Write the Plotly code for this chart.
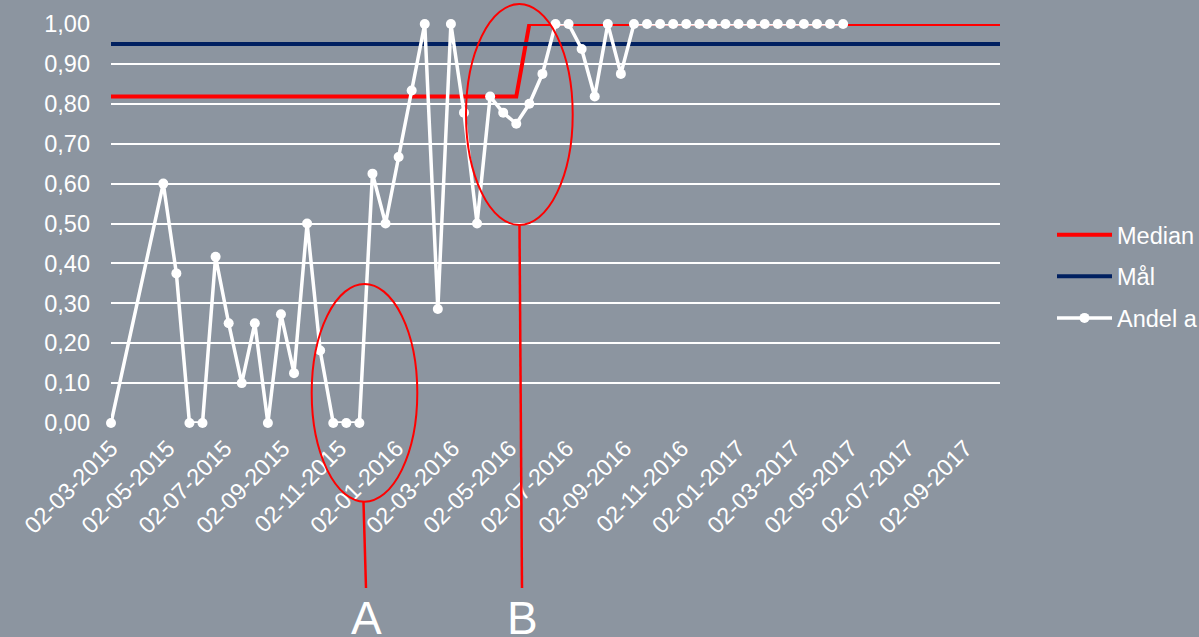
import plotly.graph_objects as go
import pandas as pd

# ---- data ----
first_date = "2015-03-02"
series_start = "2015-04-27"
andel_values = [0.0,
    0.60, 0.375, 0.0, 0.0, 0.4167, 0.25, 0.10, 0.25, 0.0, 0.2727,
    0.125, 0.50, 0.1818, 0.0, 0.0, 0.0, 0.625, 0.50, 0.6667, 0.8333,
    1.0, 0.2857, 1.0, 0.7778, 0.50, 0.8182, 0.7778, 0.75, 0.80, 0.875,
    1.0, 1.0, 0.9375, 0.8182, 1.0, 0.875, 1.0, 1.0, 1.0, 1.0,
    1.0, 1.0, 1.0, 1.0, 1.0, 1.0, 1.0, 1.0, 1.0, 1.0,
    1.0, 1.0, 1.0]
n_periods_total = 65          # biweekly periods covered by median / goal
median_before = 0.818
median_after = 1.0
median_shift_index = 28       # period index where median steps up
goal_value = 0.95

series_names = ["Median", "Mål", "Andel a"]
y_ticks = [0.0, 0.1, 0.2, 0.3, 0.4, 0.5, 0.6, 0.7, 0.8, 0.9, 1.0]

# ---- derived dates ----
period_dates = list(pd.date_range(series_start, periods=n_periods_total, freq="14D"))
all_dates = [pd.Timestamp(first_date)] + period_dates
andel_dates = all_dates[:len(andel_values)]
median_values = [median_before] + [median_before if k < median_shift_index else median_after
                                   for k in range(n_periods_total)]
goal_values = [goal_value] * len(all_dates)

# ---- layout geometry (pixels) ----
FIG_W, FIG_H = 1199, 637
L, R, T, B = 111, 199, 24, 214
PW, PH = FIG_W - L - R, FIG_H - T - B

def px(x):
    return (x - L) / PW

def py(y):
    return (FIG_H - B - y) / PH

BG = "#8C95A0"
FONT = "Arial, Liberation Sans, sans-serif"
FS = 23.5

fig = go.Figure()
fig.add_trace(go.Scatter(x=all_dates, y=median_values, name=series_names[0], mode="lines",
                         line=dict(color="#FF0000", width=4), cliponaxis=False,
                         legendgroup="a"))
fig.add_trace(go.Scatter(x=all_dates, y=goal_values, name=series_names[1], mode="lines",
                         line=dict(color="#002060", width=4), cliponaxis=False,
                         legendgroup="b"))
fig.add_trace(go.Scatter(x=andel_dates, y=andel_values, name=series_names[2], mode="lines+markers",
                         line=dict(color="#FFFFFF", width=3.5),
                         marker=dict(color="#FFFFFF", size=10), cliponaxis=False,
                         legendgroup="c"))

shapes = []
# ellipse A and pointer line
shapes.append(dict(type="circle", xref="paper", yref="paper",
                   x0=px(311.7), x1=px(417.3), y0=py(501.7), y1=py(284),
                   line=dict(color="#FF0000", width=2)))
shapes.append(dict(type="line", xref="paper", yref="paper",
                   x0=px(363.5), x1=px(366), y0=py(502), y1=py(588),
                   line=dict(color="#FF0000", width=2.5)))
# ellipse B and pointer line
shapes.append(dict(type="circle", xref="paper", yref="paper",
                   x0=px(466), x1=px(572.7), y0=py(225), y1=py(4),
                   line=dict(color="#FF0000", width=2)))
shapes.append(dict(type="line", xref="paper", yref="paper",
                   x0=px(519.5), x1=px(522), y0=py(225), y1=py(588),
                   line=dict(color="#FF0000", width=2.5)))

annotations = [
    dict(text="A", xref="paper", yref="paper", x=px(366), y=py(590), xanchor="center",
         yanchor="top", showarrow=False, font=dict(family=FONT, size=46, color="white")),
    dict(text="B", xref="paper", yref="paper", x=px(522), y=py(590), xanchor="center",
         yanchor="top", showarrow=False, font=dict(family=FONT, size=46, color="white")),
]

fig.update_layout(
    width=FIG_W, height=FIG_H,
    margin=dict(l=L, r=R, t=T, b=B, autoexpand=False),
    paper_bgcolor=BG, plot_bgcolor=BG,
    separators=",.",
    font=dict(family=FONT, size=FS, color="white"),
    shapes=shapes, annotations=annotations,
    showlegend=True,
    legend=dict(x=px(1052), y=py(213), xanchor="left", yanchor="top",
                bgcolor="rgba(0,0,0,0)", font=dict(family=FONT, size=FS, color="white"),
                itemwidth=55, tracegroupgap=8, traceorder="grouped"),
    xaxis=dict(type="date", range=[all_dates[0], all_dates[-1]],
               tick0=first_date, dtick="M2", tickformat="%d-%m-%Y", tickangle=-45,
               showgrid=False, zeroline=False, showline=False, ticks="",
               ticklabelstandoff=6, tickfont=dict(size=FS, color="white")),
    yaxis=dict(range=[0, 1.0], tickvals=y_ticks, tickformat=".2f",
               showgrid=True, gridcolor="white", gridwidth=1.5, zeroline=False,
               showline=False, ticks="", ticklabelstandoff=20,
               tickfont=dict(size=FS, color="white")),
)

fig.write_html("out.html")
